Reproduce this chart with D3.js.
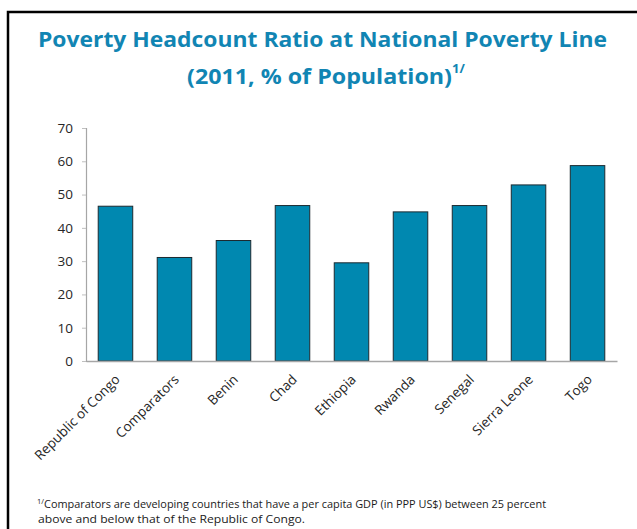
<!DOCTYPE html>
<html>
<head>
<meta charset="utf-8">
<script src="https://cdn.jsdelivr.net/npm/d3@7"></script>
<style>
  html, body { margin: 0; padding: 0; background: #fff; overflow: hidden; }
  svg { display: block; }
</style>
</head>
<body>
<svg id="chart" width="637" height="529"></svg>
<script>
// Poverty headcount ratio at national poverty line, 2011 (% of population)
const categories = ["Republic of Congo", "Comparators", "Benin", "Chad", "Ethiopia",
                    "Rwanda", "Senegal", "Sierra Leone", "Togo"];
const povertyRatio = [46.5, 31.1, 36.2, 46.7, 29.5, 44.8, 46.7, 52.9, 58.7];
const yTicks = [0, 10, 20, 30, 40, 50, 60, 70];
const titleLines = ["Poverty Headcount Ratio at National Poverty Line", "(2011, % of Population)"];
const footnoteLines = [
  "Comparators are developing countries that have a per capita GDP (in PPP US$) between 25 percent",
  "above and below that of the Republic of Congo."
];

const svg = d3.select("#chart");
const FONT = "'Open Sans', 'Noto Sans', sans-serif";
const BLUE = "#0088b0";
const TITLE_BLUE = "#1185b3";

// outer frame (open on the right and bottom)
svg.append("rect")
  .attr("x", 8).attr("y", 12).attr("width", 700).attr("height", 600)
  .attr("fill", "none").attr("stroke", "#000").attr("stroke-width", 2.5);

// title
svg.append("text")
  .attr("x", 38).attr("y", 47)
  .attr("font-family", FONT).attr("font-weight", "bold").attr("font-size", 22)
  .attr("fill", TITLE_BLUE)
  .attr("textLength", 569).attr("lengthAdjust", "spacingAndGlyphs")
  .text(titleLines[0]);

const t2 = svg.append("text")
  .attr("x", 187).attr("y", 84)
  .attr("font-family", FONT).attr("font-weight", "bold").attr("font-size", 22)
  .attr("fill", TITLE_BLUE);
t2.append("tspan").attr("textLength", 265).attr("lengthAdjust", "spacingAndGlyphs")
  .text(titleLines[1]);
t2.append("tspan").attr("dy", -11).attr("font-size", 13).text("1/");

const x = d3.scaleBand()
  .domain(categories)
  .range([86, 617])
  .paddingInner(0.415)
  .paddingOuter(0.207);

const y = d3.scaleLinear()
  .domain([0, 70])
  .range([361, 128]);

// y axis
const yAxis = svg.append("g")
  .attr("transform", "translate(86,0)")
  .call(d3.axisLeft(y).tickValues(yTicks).tickSize(4).tickPadding(9));
yAxis.select(".domain").attr("stroke", "#a6a6a6").attr("stroke-width", 1.2);
yAxis.selectAll(".tick line").attr("stroke", "#bfbfbf");
yAxis.selectAll(".tick text")
  .attr("font-family", FONT).attr("font-size", 13.5).attr("fill", "#262626");

// bars
svg.append("g").selectAll("rect")
  .data(categories)
  .join("rect")
  .attr("x", d => x(d))
  .attr("y", (d, i) => y(povertyRatio[i]))
  .attr("width", x.bandwidth())
  .attr("height", (d, i) => y(0) - y(povertyRatio[i]))
  .attr("fill", BLUE)
  .attr("stroke", "#1c2a30")
  .attr("stroke-width", 1);

// x axis with rotated category labels
const xAxis = svg.append("g")
  .attr("transform", "translate(0,361)")
  .call(d3.axisBottom(x).tickSize(0).tickPadding(0));
xAxis.select(".domain").attr("stroke", "#a6a6a6").attr("stroke-width", 1.5);
xAxis.selectAll(".tick text")
  .attr("font-family", FONT).attr("font-size", 13.5).attr("fill", "#262626")
  .attr("text-anchor", "end")
  .attr("transform", "translate(2,16) rotate(-45)")
  .attr("dy", "0.35em");

// footnote
const fn = svg.append("g")
  .attr("font-family", FONT).attr("font-size", 11).attr("fill", "#1a1a1a");
const f1 = fn.append("text").attr("x", 37).attr("y", 508);
f1.append("tspan").attr("font-size", 7.5).attr("dy", -4).text("1/");
f1.append("tspan").attr("dy", 4)
  .attr("textLength", 502).attr("lengthAdjust", "spacingAndGlyphs")
  .text(footnoteLines[0]);
fn.append("text").attr("x", 38).attr("y", 523)
  .attr("textLength", 267).attr("lengthAdjust", "spacingAndGlyphs")
  .text(footnoteLines[1]);
</script>
</body>
</html>
